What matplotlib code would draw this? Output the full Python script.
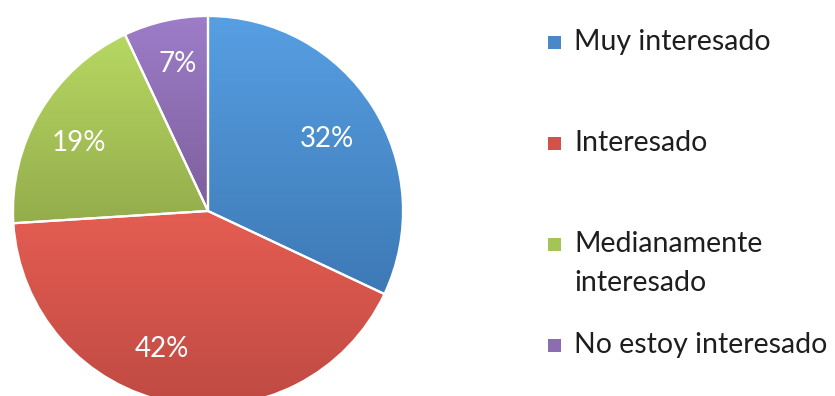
import numpy as np
import matplotlib
matplotlib.use("Agg")
import matplotlib.pyplot as plt
from matplotlib.colors import LinearSegmentedColormap
from matplotlib.patches import Rectangle

plt.rcParams['font.family'] = ['Lato', 'DejaVu Sans']

# Data
categories = ["Muy interesado", "Interesado", "Medianamente\ninteresado", "No estoy interesado"]
shares = [32, 42, 19, 7]

# Style: top/bottom shades for each slice's vertical gradient
top_colors = ["#579fe3", "#e55d52", "#b7d862", "#9d7dc8"]
bottom_colors = ["#3d79b5", "#bf4a42", "#94ad4c", "#7d5f9c"]
legend_colors = ["#4a88c8", "#d2524a", "#a4c456", "#8c6db2"]

W, H = 835, 396
fig = plt.figure(figsize=(W / 100, H / 100), dpi=100)
ax = fig.add_axes([0, 0, 1, 1])

cx, cy, R = 208, H - 211, 195
wedges, _texts, autotexts = ax.pie(
    shares, startangle=90, counterclock=False, center=(cx, cy), radius=R,
    autopct="%d%%", pctdistance=0.72,
    wedgeprops=dict(edgecolor="white", linewidth=1.6),
    textprops=dict(color="white", fontsize=20),
)

ax.set_xlim(0, W)
ax.set_ylim(0, H)
ax.set_aspect("equal")
ax.axis("off")

# Vertical gradient fill clipped to each wedge
grad = np.linspace(0, 1, 256).reshape(-1, 1)
for w, c0, c1 in zip(wedges, top_colors, bottom_colors):
    bb = w.get_path().get_extents(w.get_transform() + ax.transData.inverted())
    cmap = LinearSegmentedColormap.from_list("g", [c1, c0])
    im = ax.imshow(grad, cmap=cmap, origin="lower", aspect="auto",
                   extent=[bb.x0, bb.x1, bb.y0, bb.y1], zorder=1,
                   interpolation="bilinear")
    im.set_clip_path(w)
    w.set_facecolor("none")
    w.set_zorder(2)

# Label nudges (pixels, y up)
nudges = [(0, -3), (-20, 0), (-8, -3), (0, 10)]
for t, (dx, dy) in zip(autotexts, nudges):
    x, y = t.get_position()
    t.set_position((x + dx, y + dy))
    t.set_zorder(3)

ax.set_xlim(0, W)
ax.set_ylim(0, H)

# Legend
entry_y = [42, 143, 244, 345]
line_gap = 39
for lab, col, yy in zip(categories, legend_colors, entry_y):
    ax.add_patch(Rectangle((548, H - yy - 6.5), 13, 13, facecolor=col,
                           edgecolor="none", zorder=3))
    for i, line in enumerate(lab.split("\n")):
        ax.text(574, H - yy - i * line_gap, line, fontsize=20.5, color="#1e1e1e",
                va="center", ha="left")

fig.savefig("out.png", dpi=100)
